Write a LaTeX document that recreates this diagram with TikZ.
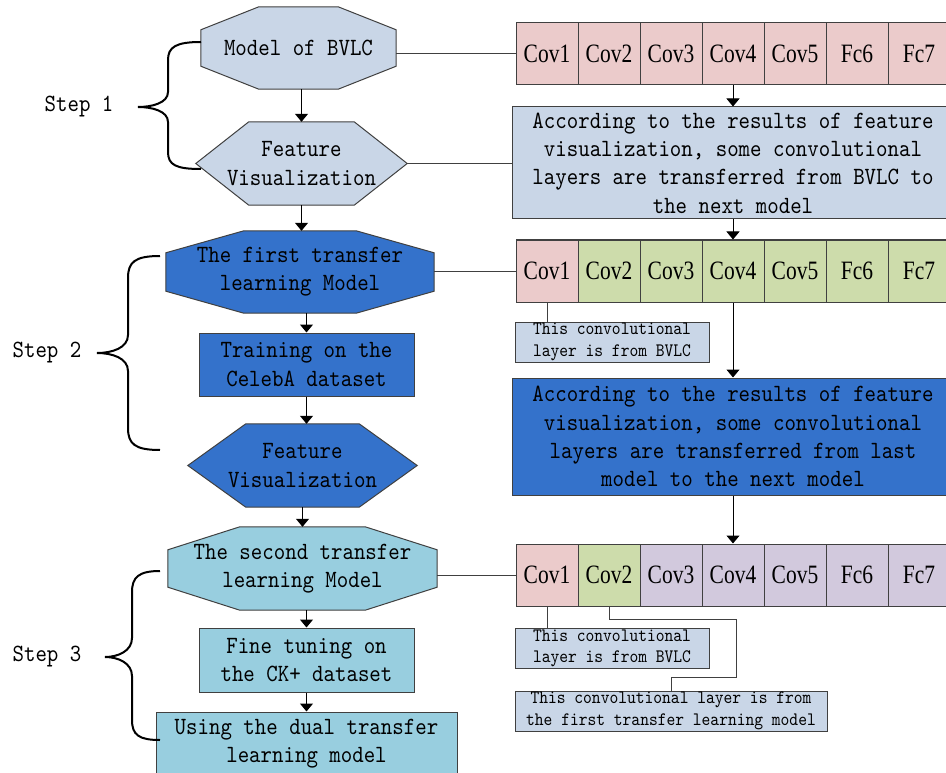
\documentclass[tikz,border=0pt]{standalone}
\usepackage{fontspec}
\usetikzlibrary{calc,arrows.meta,backgrounds}
\newfontfamily\monofnt{lmmono10-regular.otf}[FakeStretch=0.88]
\newfontfamily\covfnt{Liberation Serif}[FakeStretch=0.81]
\definecolor{lb}{HTML}{C9D6E7}
\definecolor{pk}{HTML}{EBCBCB}
\definecolor{gr}{HTML}{CDDCAB}
\definecolor{pu}{HTML}{D2C9DD}
\definecolor{db}{HTML}{3472CB}
\definecolor{cy}{HTML}{98CEDF}
\definecolor{bord}{HTML}{404040}
\newcommand\octshape[4]{%
  \draw[bord, line width=1pt, fill=#4] ($(#1.north west)+(#2,0)$) -- ($(#1.north east)+(-#2,0)$) -- ($(#1.north east)+(0,#3)$) -- ($(#1.south east)+(0,-#3)$) -- ($(#1.south east)+(-#2,0)$) -- ($(#1.south west)+(#2,0)$) -- ($(#1.south west)+(0,-#3)$) -- ($(#1.north west)+(0,#3)$) -- cycle;}
\newcommand\hexshape[3]{%
  \draw[bord, line width=1pt, fill=#3] ($(#1.north west)+(#2,0)$) -- ($(#1.north east)+(-#2,0)$) -- (#1.east) -- ($(#1.south east)+(-#2,0)$) -- ($(#1.south west)+(#2,0)$) -- (#1.west) -- cycle;}
\begin{document}
\begin{tikzpicture}[x=1pt,y=-1pt,
  txt/.style={font={\fontsize{24.8}{28.3}\monofnt}, align=center, inner sep=0pt},
  stxt/.style={font={\fontsize{19}{21.7}\monofnt}, align=center, inner sep=0pt},
  shp/.style={txt, minimum width=#1},
  rbox/.style={draw=bord, line width=1pt, txt},
  sbox/.style={draw=bord, line width=1pt, stxt, fill=lb, minimum height=40},
  cell/.style={draw=bord, line width=1pt, minimum width=62, minimum height=62, inner sep=0pt, font={\fontsize{26.5}{28}\covfnt}},
  arr/.style={-{Triangle[width=13pt,length=8pt]}, line width=1pt, draw=black},
  ln/.style={line width=1pt, draw=bord},
  brace/.style={line width=2pt, draw=black}]
\useasboundingbox (0,0) rectangle (946,773);
\clip (0,0) rectangle (946,773);

% left column
\node[shp=195, minimum height=82] (m1) at (298.5,48) {Model of BVLC};
\node[shp=211, minimum height=83] (fv1) at (301.5,163.5) {Feature\\Visualization};
\node[shp=268, minimum height=82] (t1) at (300,272) {The first transfer\\learning Model};
\node[rbox, fill=db, minimum width=215, minimum height=63] (tr) at (306.5,364.5) {Training on the\\CelebA dataset};
\node[shp=229, minimum height=83] (fv2) at (302.5,465.5) {Feature\\Visualization};
\node[shp=269, minimum height=83] (t2) at (302.5,568.5) {The second transfer\\learning Model};
\node[rbox, fill=cy, minimum width=215, minimum height=64] (ft) at (306.5,660) {Fine tuning on\\the CK+ dataset};
\node[rbox, fill=cy, minimum width=301, minimum height=64] (ud) at (306.5,744) {Using the dual transfer\\learning model};

\begin{scope}[on background layer]
  \fill[white] (0,0) rectangle (946,773);
  \octshape{m1}{58}{23}{lb}
  \hexshape{fv1}{53}{lb}
  \octshape{t1}{78}{22}{db}
  \hexshape{fv2}{58}{db}
  \octshape{t2}{72}{23}{cy}
\end{scope}

% step labels and braces
\node[txt] (s1) at (79,107) {Step 1};
\node[txt] (s2) at (47,353) {Step 2};
\node[txt] (s3) at (47,657) {Step 3};
\draw[brace] (201,42) .. controls (176,42) and (168,47) .. (168,60) -- (168,92) .. controls (168,103) and (152,107) .. (138,107) .. controls (152,107) and (168,111) .. (168,122) -- (168,152) .. controls (168,165) and (176,169) .. (201,169);
\draw[brace] (160,256) .. controls (135,256) and (128,262) .. (128,278) -- (128,335) .. controls (128,348) and (112,353) .. (97,353) .. controls (112,353) and (128,358) .. (128,371) -- (128,428) .. controls (128,444) and (135,450) .. (160,450);
\draw[brace] (160,571) .. controls (139,571) and (132,577) .. (132,592) -- (132,638) .. controls (132,651) and (118,657) .. (105,657) .. controls (118,657) and (132,663) .. (132,676) -- (132,720) .. controls (132,735) and (139,740) .. (160,740);

% right column: layer rows
\foreach \i/\t in {1/Cov1,2/Cov2,3/Cov3,4/Cov4,5/Cov5,6/Fc6,7/Fc7}
  \node[cell, fill=pk] (r1c\i) at ({547+62*(\i-1)},54) {\t};
\foreach \i/\t/\c in {1/Cov1/pk,2/Cov2/gr,3/Cov3/gr,4/Cov4/gr,5/Cov5/gr,6/Fc6/gr,7/Fc7/gr}
  \node[cell, fill=\c] (r2c\i) at ({547+62*(\i-1)},271) {\t};
\foreach \i/\t/\c in {1/Cov1/pk,2/Cov2/gr,3/Cov3/pu,4/Cov4/pu,5/Cov5/pu,6/Fc6/pu,7/Fc7/pu}
  \node[cell, fill=\c] (r3c\i) at ({547+62*(\i-1)},575) {\t};

\node[rbox, fill=lb, minimum width=442, minimum height=112] (tb1) at (733,163) {According to the results of feature\\visualization, some convolutional\\layers are transferred from BVLC to\\the next model};
\node[rbox, fill=db, minimum width=442, minimum height=117] (tb2) at (733,436.5) {According to the results of feature\\visualization, some convolutional\\layers are transferred from last\\model to the next model};
\node[sbox, minimum width=194] (sb1) at (612,342) {This convolutional\\layer is from BVLC};
\node[sbox, minimum width=194] (sb2) at (612,648.5) {This convolutional\\layer is from BVLC};
\node[sbox, minimum width=312] (sb3) at (671,711) {This convolutional layer is from\\the first transfer learning model};

% connectors left column
\draw[arr] (fv1.north |- m1.south) -- (fv1.north);
\draw[arr] (fv1.south) -- (fv1.south |- t1.north);
\draw[arr] (tr.north |- t1.south) -- (tr.north);
\draw[arr] (tr.south) -- (tr.south |- fv2.north);
\draw[arr] (fv2.south) -- (fv2.south |- t2.north);
\draw[arr] (ft.north |- t2.south) -- (ft.north);
\draw[arr] (ft.south) -- (ft.south |- ud.north);

% horizontal links
\draw[ln] (r1c1.west -| m1.east) -- (r1c1.west);
\draw[ln] (fv1.east) -- (fv1.east -| tb1.west);
\draw[ln] (r2c1.west -| t1.east) -- (r2c1.west);
\draw[ln] (r3c1.west -| t2.east) -- (r3c1.west);

% right column arrows
\draw[arr] (r1c4.south) -- (tb1.north -| r1c4.south);
\draw[arr] (tb1.south -| r2c4.north) -- (r2c4.north);
\draw[arr] (r2c4.south) -- (tb2.north -| r2c4.south);
\draw[arr] (tb2.south -| r3c4.north) -- (r3c4.north);

% notes
\draw[ln] (r2c1.south) -- (r2c1.south |- sb1.north);
\draw[ln] (r3c1.south) -- (r3c1.south |- sb2.north);
\coordinate (k1) at (736,677);
\draw[ln] (r3c2.south) -- ++(0,13) -| (k1) -| (sb3.north);
\end{tikzpicture}
\end{document}
